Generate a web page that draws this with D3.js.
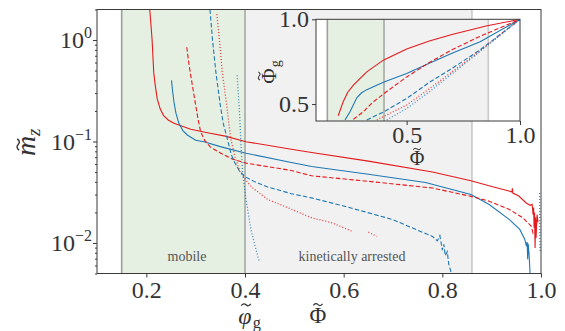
<!DOCTYPE html>
<html>
<head>
<meta charset="utf-8">
<script src="https://cdn.jsdelivr.net/npm/d3@7"></script>
<style>
  body { margin: 0; background: #fff; }
  svg text { font-family: "Liberation Serif", "DejaVu Serif", serif; }
</style>
</head>
<body>
<div id="chart"></div>
<script>
// regions along phi
const mobileBand = [0.15, 0.4];
const arrestedBand = [0.4, 0.86];

const xTicks = [0.2, 0.4, 0.6, 0.8, 1.0];
const yMajor = [1, 0.1, 0.01];
const insetXTicks = [0.5, 1.0];
const insetYTicks = [0.5, 1.0];

// main panel: m_z vs Phi
const redSolidPhi = [0.207, 0.2116, 0.215, 0.218, 0.222, 0.228, 0.235, 0.245, 0.256, 0.29, 0.324, 0.36, 0.402, 0.494, 0.535, 0.65, 0.78, 0.858, 0.90, 0.935, 0.941, 0.942, 0.943, 0.955, 0.97, 0.978, 0.982, 0.984, 0.985, 0.986, 0.987, 0.988, 0.989, 0.990, 0.992, 0.994];
const redSolidM = [2.0, 1.02, 0.48, 0.36, 0.265, 0.21, 0.18, 0.162, 0.151, 0.132, 0.122, 0.113, 0.0995, 0.084, 0.078, 0.064, 0.05, 0.041, 0.036, 0.0325, 0.0318, 0.0345, 0.031, 0.029, 0.0248, 0.0235, 0.024, 0.019, 0.0224, 0.0141, 0.02, 0.0089, 0.0178, 0.0112, 0.019, 0.016];

const blueSolidPhi = [0.251, 0.253, 0.256, 0.26, 0.266, 0.274, 0.283, 0.30, 0.317, 0.35, 0.402, 0.494, 0.535, 0.65, 0.766, 0.858, 0.895, 0.936, 0.957, 0.967, 0.970, 0.972, 0.973, 0.974, 0.976, 0.978];
const blueSolidM = [0.40, 0.32, 0.245, 0.19, 0.151, 0.128, 0.116, 0.103, 0.0995, 0.089, 0.0767, 0.062, 0.0566, 0.0475, 0.0395, 0.030, 0.0239, 0.017, 0.0136, 0.0109, 0.0095, 0.0102, 0.0069, 0.0098, 0.0075, 0.0048];

const redDashPhi = [0.282, 0.286, 0.29, 0.295, 0.30, 0.305, 0.31, 0.318, 0.33, 0.351, 0.375, 0.402, 0.494, 0.535, 0.65, 0.78, 0.858, 0.895, 0.936, 0.963, 0.98, 0.984, 0.987];
const redDashM = [0.85, 0.6, 0.448, 0.32, 0.228, 0.165, 0.125, 0.103, 0.088, 0.0767, 0.067, 0.0612, 0.0518, 0.0459, 0.0405, 0.0348, 0.0288, 0.0258, 0.0214, 0.0177, 0.0147, 0.0125, 0.0131];

const blueDashPhi = [0.329, 0.334, 0.341, 0.35, 0.356, 0.363, 0.372, 0.378, 0.388, 0.399, 0.42, 0.446, 0.494, 0.535, 0.596, 0.698, 0.78, 0.79, 0.795, 0.80, 0.803, 0.806, 0.81, 0.813, 0.817, 0.818];
const blueDashM = [2.0, 1.02, 0.48, 0.227, 0.15, 0.112, 0.075, 0.0634, 0.052, 0.0453, 0.04, 0.0356, 0.0306, 0.0278, 0.0234, 0.0171, 0.0116, 0.0105, 0.0118, 0.0085, 0.0097, 0.0075, 0.0082, 0.0062, 0.0053, 0.004];

const redDotPhi = [0.343, 0.348, 0.354, 0.363, 0.371, 0.38, 0.39, 0.40, 0.412, 0.446, 0.48, 0.535, 0.576, 0.616];
const redDotM = [1.8, 1.02, 0.48, 0.227, 0.107, 0.07, 0.05, 0.043, 0.036, 0.0268, 0.023, 0.0177, 0.0158, 0.0131];
const redDot2Phi = [0.65, 0.667];
const redDot2M = [0.0128, 0.0116];

const blueDotPhi = [0.384, 0.388, 0.390, 0.392, 0.395, 0.402, 0.412, 0.42, 0.429];
const blueDotM = [0.45, 0.227, 0.15, 0.09, 0.05, 0.0268, 0.0136, 0.0095, 0.0065];
const blueDot2Phi = [0.997, 0.998];
const blueDot2M = [0.031, 0.008];

// inset: Phi_g vs Phi
const inRedSolidPhi = [0.198, 0.22, 0.24, 0.265, 0.324, 0.397, 0.5, 0.6, 0.7, 0.85, 1.0];
const inRedSolidG = [0.431, 0.514, 0.57, 0.612, 0.69, 0.759, 0.825, 0.872, 0.91, 0.96, 1.0];
const inBlueSolidPhi = [0.228, 0.25, 0.28, 0.30, 0.324, 0.4, 0.5, 0.6, 0.7, 0.824, 1.0];
const inBlueSolidG = [0.406, 0.455, 0.537, 0.565, 0.585, 0.63, 0.68, 0.74, 0.8, 0.868, 1.0];
const inRedDashPhi = [0.265, 0.309, 0.35, 0.4, 0.5, 0.6, 0.7, 0.824, 1.0];
const inRedDashG = [0.41, 0.455, 0.51, 0.562, 0.66, 0.745, 0.82, 0.9, 1.0];
const inBlueDashPhi = [0.324, 0.4, 0.5, 0.6, 0.7, 0.824, 1.0];
const inBlueDashG = [0.406, 0.455, 0.533, 0.628, 0.71, 0.82, 1.0];
const inRedDotPhi = [0.368, 0.5, 0.6, 0.8, 1.0];
const inRedDotG = [0.406, 0.494, 0.59, 0.79, 1.0];
const inBlueDotPhi = [0.412, 0.5, 0.6, 0.8, 1.0];
const inBlueDotG = [0.406, 0.474, 0.572, 0.785, 1.0];

const RED = "#e41a1c", BLUE = "#1f78b4";
const styles = {
    solid: null,
    dash: "4.5,2.2",
    dot: "1,2"
};

const mainSeries = [
    { phi: redSolidPhi, v: redSolidM, color: RED, dash: "solid" },
    { phi: blueSolidPhi, v: blueSolidM, color: BLUE, dash: "solid" },
    { phi: redDashPhi, v: redDashM, color: RED, dash: "dash" },
    { phi: blueDashPhi, v: blueDashM, color: BLUE, dash: "dash" },
    { phi: redDotPhi, v: redDotM, color: RED, dash: "dot" },
    { phi: redDot2Phi, v: redDot2M, color: RED, dash: "dot" },
    { phi: blueDotPhi, v: blueDotM, color: BLUE, dash: "dot" },
    { phi: blueDot2Phi, v: blueDot2M, color: BLUE, dash: "dot" }
];
const insetSeries = [
    { phi: inRedSolidPhi, v: inRedSolidG, color: RED, dash: "solid" },
    { phi: inBlueSolidPhi, v: inBlueSolidG, color: BLUE, dash: "solid" },
    { phi: inRedDashPhi, v: inRedDashG, color: RED, dash: "dash" },
    { phi: inBlueDashPhi, v: inBlueDashG, color: BLUE, dash: "dash" },
    { phi: inRedDotPhi, v: inRedDotG, color: RED, dash: "dot" },
    { phi: inBlueDotPhi, v: inBlueDotG, color: BLUE, dash: "dot" }
];

const width = 565, height = 331;
const svg = d3.select("#chart").append("svg")
    .attr("width", width).attr("height", height);

const SPINE = "#3a3a3a";
const INK = "#333";

function drawPanel(g, x, y, series, clipId) {
    const [x0, x1] = x.range();
    const [y1, y0] = y.range();

    g.append("defs").append("clipPath").attr("id", clipId)
        .append("rect").attr("x", x0).attr("y", y0)
        .attr("width", x1 - x0).attr("height", y1 - y0);

    g.append("rect").attr("x", x0).attr("y", y0)
        .attr("width", x1 - x0).attr("height", y1 - y0).attr("fill", "#fff");

    g.append("rect")
        .attr("x", x(mobileBand[0])).attr("y", y0)
        .attr("width", x(mobileBand[1]) - x(mobileBand[0])).attr("height", y1 - y0)
        .attr("fill", "#e5f0e3");
    g.append("rect")
        .attr("x", x(arrestedBand[0])).attr("y", y0)
        .attr("width", x(arrestedBand[1]) - x(arrestedBand[0])).attr("height", y1 - y0)
        .attr("fill", "#f1f1f1");

    [[mobileBand[0], "#9aa09a"], [mobileBand[1], "#a5aaa5"], [arrestedBand[1], "#c9c9c9"]].forEach(([v, c]) => {
        g.append("line")
            .attr("x1", x(v)).attr("x2", x(v)).attr("y1", y0).attr("y2", y1)
            .attr("stroke", c).attr("stroke-width", 1.6);
    });

    const line = d3.line()
        .x(d => x(d[0]))
        .y(d => y(d[1]));

    g.append("g").attr("clip-path", `url(#${clipId})`)
        .selectAll("path")
        .data(series)
        .join("path")
        .attr("fill", "none")
        .attr("stroke", d => d.color)
        .attr("stroke-width", d => d.dash === "dot" ? 1.3 : 1.1)
        .attr("stroke-opacity", d => d.dash === "dot" ? 0.85 : 1)
        .attr("stroke-dasharray", d => styles[d.dash])
        .attr("d", d => line(d.phi.map((p, i) => [p, d.v[i]])));

    g.append("rect").attr("x", x0).attr("y", y0)
        .attr("width", x1 - x0).attr("height", y1 - y0)
        .attr("fill", "none").attr("stroke", SPINE).attr("stroke-width", 1);
}

// a symbol with a small drawn tilde above it, plus optional subscript
function tilded(g, cx, baseY, ch, size, opts = {}) {
    const grp = g.append("g");
    const t = grp.append("text")
        .attr("x", cx).attr("y", baseY)
        .attr("font-size", size).attr("fill", INK)
        .attr("font-style", opts.italic ? "italic" : null)
        .text(ch);
    const w = t.node().getComputedTextLength();
    t.attr("x", cx - w / 2);
    const a = size * 0.2, h = size * 0.07;
    const tx = cx + (opts.tdx || 0), ty = baseY - size * (opts.lift || 0.75);
    grp.append("path")
        .attr("d", `M${tx - a},${ty + h / 2} Q${tx - a / 2},${ty - h * 1.4} ${tx},${ty} T${tx + a},${ty - h / 2}`)
        .attr("fill", "none").attr("stroke", INK).attr("stroke-width", size * 0.05);
    if (opts.sub) {
        grp.append("text")
            .attr("x", cx + w / 2 + (opts.subdx || 0)).attr("y", baseY + size * 0.18)
            .attr("font-size", size * 0.68).attr("fill", INK)
            .attr("font-style", opts.subItalic ? "italic" : null)
            .text(opts.sub);
    }
    return grp;
}

// ---------- main panel ----------
const x = d3.scaleLinear().domain([0.1, 1.0]).range([97, 541]);
const y = d3.scaleLog().domain([0.005, 2]).range([273.5, 9.5]);

const main = svg.append("g");
drawPanel(main, x, y, mainSeries, "clipMain");

const xAxis = main.append("g")
    .attr("transform", "translate(0,273.5)")
    .call(d3.axisBottom(x).tickValues(xTicks).tickSize(4).tickPadding(3)
        .tickFormat(d3.format(".1f")));
xAxis.select(".domain").remove();
xAxis.selectAll("line").attr("stroke", SPINE);
xAxis.selectAll("text").attr("font-size", 24).attr("fill", INK)
    .attr("font-family", "Liberation Serif");

// y minor ticks
const yMinor = [];
[0.001, 0.01, 0.1, 1].forEach(dec => {
    for (let k = 2; k <= 9; k++) {
        const v = dec * k;
        if (v >= 0.005 && v <= 2) yMinor.push(v);
    }
});
const yAxisMinor = main.append("g").attr("transform", "translate(97,0)")
    .call(d3.axisLeft(y).tickValues(yMinor).tickSize(2).tickFormat(""));
yAxisMinor.select(".domain").remove();
yAxisMinor.selectAll("line").attr("stroke", SPINE);

const yAxis = main.append("g").attr("transform", "translate(97,0)")
    .call(d3.axisLeft(y).tickValues(yMajor).tickSize(4).tickFormat(""));
yAxis.select(".domain").remove();
yAxis.selectAll("line").attr("stroke", SPINE);

yMajor.forEach(v => {
    const t = main.append("text")
        .attr("x", 92).attr("y", y(v) + 8)
        .attr("text-anchor", "end")
        .attr("font-size", 24).attr("fill", INK);
    t.append("tspan").text("10");
    const e = Math.round(Math.log10(v));
    t.append("tspan").attr("dy", -10).attr("font-size", 16)
        .text(e === 0 ? "0" : "\u2212" + Math.abs(e));
});

// y label (rotated)
const ylg = main.append("g").attr("transform", "translate(35,142) rotate(-90)");
tilded(ylg, -4, 0, "m", 28, { italic: true, lift: 0.6, tdx: 1.5, sub: "z", subItalic: true });

// x labels
tilded(main, 245, 324, "\u03C6", 24, { italic: true, lift: 0.8, tdx: 1, sub: "g", subdx: 1 });
tilded(main, 318, 323, "\u03A6", 23, { lift: 0.8 });

// region labels
main.append("text").attr("x", 187).attr("y", 261)
    .attr("text-anchor", "middle").attr("font-size", 14).attr("fill", "#555")
    .text("mobile");
main.append("text").attr("x", 352).attr("y", 261)
    .attr("text-anchor", "middle").attr("font-size", 14).attr("fill", "#555")
    .text("kinetically arrested");

// ---------- inset ----------
const xi = d3.scaleLinear().domain([0.1, 1.0]).range([316, 520]);
const yi = d3.scaleLinear().domain([0.4, 1.0]).range([121, 19.3]);

const inset = svg.append("g");
drawPanel(inset, xi, yi, insetSeries, "clipInset");

const xiAxis = inset.append("g").attr("transform", "translate(0,121)")
    .call(d3.axisBottom(xi).tickValues(insetXTicks).tickSize(4).tickPadding(1)
        .tickFormat(d3.format(".1f")));
xiAxis.select(".domain").remove();
xiAxis.selectAll("line").attr("stroke", SPINE);
xiAxis.selectAll("text").attr("font-size", 24).attr("fill", INK)
    .attr("font-family", "Liberation Serif");

const yiAxis = inset.append("g").attr("transform", "translate(316,0)")
    .call(d3.axisLeft(yi).tickValues(insetYTicks).tickSize(4).tickPadding(3)
        .tickFormat(d3.format(".1f")));
yiAxis.select(".domain").remove();
yiAxis.selectAll("line").attr("stroke", SPINE);
yiAxis.selectAll("text").attr("font-size", 24).attr("fill", INK)
    .attr("font-family", "Liberation Serif");

tilded(inset, 417, 165, "\u03A6", 20, { lift: 0.8 });

const igg = inset.append("g").attr("transform", "translate(276,76) rotate(-90)");
tilded(igg, 0, 0, "\u03A6", 21, { lift: 0.8, sub: "g", subdx: 1 });
</script>
</body>
</html>
